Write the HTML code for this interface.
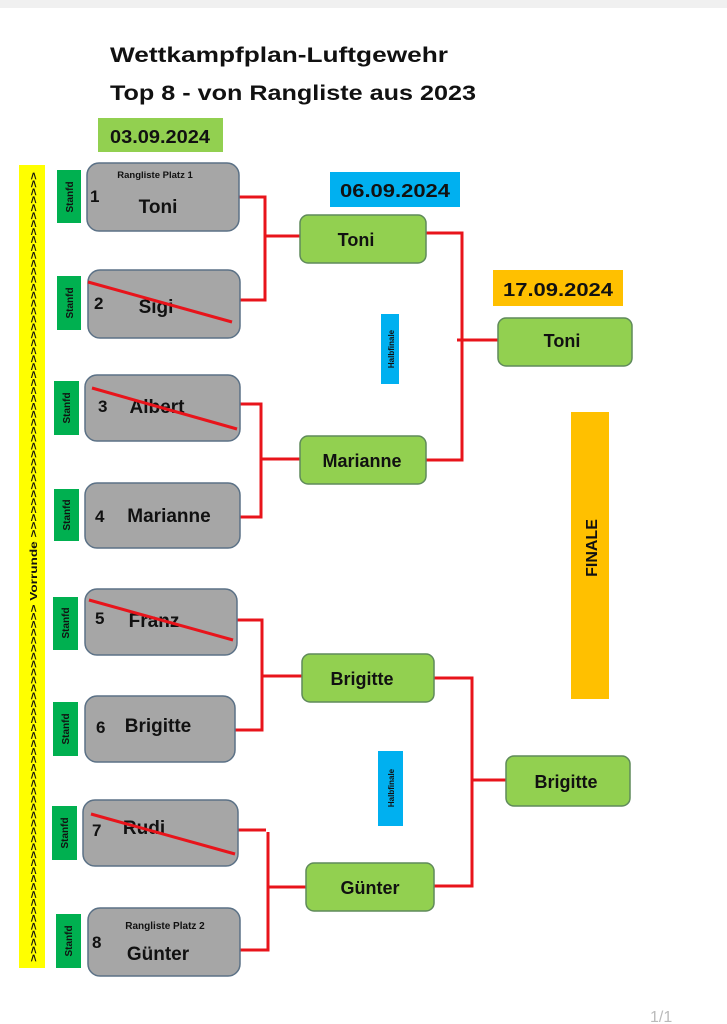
<!DOCTYPE html>
<html><head><meta charset="utf-8"><style>
html,body{margin:0;padding:0;background:#fff;}
svg{display:block;}
text{font-family:"Liberation Sans",sans-serif;font-weight:bold;fill:#111;}
</style></head><body>
<svg width="727" height="1024" viewBox="0 0 727 1024" xmlns="http://www.w3.org/2000/svg">
<rect x="0" y="0" width="727" height="8" fill="#f0f0f0"/>
<text x="110" y="62" font-size="21" textLength="338" lengthAdjust="spacingAndGlyphs">Wettkampfplan-Luftgewehr</text>
<text x="110" y="100" font-size="21" textLength="366" lengthAdjust="spacingAndGlyphs">Top 8 - von Rangliste aus 2023</text>
<rect x="98" y="118" width="125" height="34" fill="#92d050"/>
<text x="160" y="143" font-size="18" text-anchor="middle" textLength="100" lengthAdjust="spacingAndGlyphs">03.09.2024</text>
<rect x="330" y="172" width="130" height="35" fill="#00b0f0"/>
<text x="395" y="197" font-size="18" text-anchor="middle" textLength="110" lengthAdjust="spacingAndGlyphs">06.09.2024</text>
<rect x="493" y="270" width="130" height="36" fill="#ffc000"/>
<text x="558" y="296" font-size="18" text-anchor="middle" textLength="110" lengthAdjust="spacingAndGlyphs">17.09.2024</text>

<!-- yellow bar -->
<rect x="19" y="165" width="26" height="803" fill="#ffff00"/>
<text transform="translate(37,962) rotate(-90)" font-size="10" textLength="790" lengthAdjust="spacingAndGlyphs">&gt;&gt;&gt;&gt;&gt;&gt;&gt;&gt;&gt;&gt;&gt;&gt;&gt;&gt;&gt;&gt;&gt;&gt;&gt;&gt;&gt;&gt;&gt;&gt;&gt;&gt;&gt;&gt;&gt;&gt;&gt;&gt;&gt;&gt;&gt;&gt;&gt;&gt;&gt;&gt;&gt;&gt;&gt;&gt;&gt; Vorrunde &gt;&gt;&gt;&gt;&gt;&gt;&gt;&gt;&gt;&gt;&gt;&gt;&gt;&gt;&gt;&gt;&gt;&gt;&gt;&gt;&gt;&gt;&gt;&gt;&gt;&gt;&gt;&gt;&gt;&gt;&gt;&gt;&gt;&gt;&gt;&gt;&gt;&gt;&gt;&gt;&gt;&gt;&gt;&gt;&gt;&gt;</text>

<!-- red connectors -->
<g stroke="#e8141b" stroke-width="3" fill="none">
<polyline points="239,197 265,197 265,300 240,300"/><line x1="265" y1="236" x2="300" y2="236"/>
<polyline points="240,404 261,404 261,517 240,517"/><line x1="261" y1="459" x2="300" y2="459"/>
<polyline points="237,620 262,620 262,730 235,730"/><line x1="262" y1="676" x2="302" y2="676"/>
<polyline points="238,830 266,830"/><polyline points="268,832 268,950 240,950"/><line x1="268" y1="887" x2="306" y2="887"/>
<polyline points="426,233 462,233 462,460 426,460"/><line x1="457" y1="340" x2="498" y2="340"/>
<polyline points="434,678 472,678 472,886 434,886"/><line x1="472" y1="780" x2="506" y2="780"/>
</g>

<!-- Stanfd labels -->
<g fill="#00b050">
<rect x="57" y="170" width="24" height="53"/><rect x="57" y="276" width="24" height="54"/>
<rect x="54" y="381" width="25" height="54"/><rect x="54" y="489" width="25" height="52"/>
<rect x="53" y="597" width="25" height="53"/><rect x="53" y="702" width="25" height="54"/>
<rect x="52" y="806" width="25" height="54"/><rect x="56" y="914" width="25" height="54"/>
</g>
<g font-size="10">
<text transform="translate(73,197) rotate(-90)" text-anchor="middle">Stanfd</text>
<text transform="translate(73,303) rotate(-90)" text-anchor="middle">Stanfd</text>
<text transform="translate(70,408) rotate(-90)" text-anchor="middle">Stanfd</text>
<text transform="translate(70,515) rotate(-90)" text-anchor="middle">Stanfd</text>
<text transform="translate(69,623) rotate(-90)" text-anchor="middle">Stanfd</text>
<text transform="translate(69,729) rotate(-90)" text-anchor="middle">Stanfd</text>
<text transform="translate(68,833) rotate(-90)" text-anchor="middle">Stanfd</text>
<text transform="translate(72,941) rotate(-90)" text-anchor="middle">Stanfd</text>
</g>

<!-- gray boxes -->
<g fill="#a6a6a6" stroke="#5b7186" stroke-width="1.5">
<rect x="87" y="163" width="152" height="68" rx="12"/>
<rect x="88" y="270" width="152" height="68" rx="12"/>
<rect x="85" y="375" width="155" height="66" rx="12"/>
<rect x="85" y="483" width="155" height="65" rx="12"/>
<rect x="85" y="589" width="152" height="66" rx="12"/>
<rect x="85" y="696" width="150" height="66" rx="12"/>
<rect x="83" y="800" width="155" height="66" rx="12"/>
<rect x="88" y="908" width="152" height="68" rx="12"/>
</g>
<text x="155" y="178" font-size="9.5" text-anchor="middle">Rangliste Platz 1</text>
<text x="90" y="202" font-size="17">1</text><text x="158" y="213" font-size="19" text-anchor="middle">Toni</text>
<text x="94" y="309" font-size="17">2</text><text x="156" y="313" font-size="19" text-anchor="middle">Sigi</text>
<text x="98" y="412" font-size="17">3</text><text x="157" y="413" font-size="19" text-anchor="middle">Albert</text>
<text x="95" y="522" font-size="17">4</text><text x="169" y="522" font-size="19" text-anchor="middle">Marianne</text>
<text x="95" y="624" font-size="17">5</text><text x="154" y="627" font-size="19" text-anchor="middle">Franz</text>
<text x="96" y="733" font-size="17">6</text><text x="158" y="732" font-size="19" text-anchor="middle">Brigitte</text>
<text x="92" y="836" font-size="17">7</text><text x="144" y="834" font-size="19" text-anchor="middle">Rudi</text>
<text x="165" y="929" font-size="10" text-anchor="middle">Rangliste Platz 2</text>
<text x="92" y="948" font-size="17">8</text><text x="158" y="960" font-size="19" text-anchor="middle">Günter</text>

<!-- strike-throughs -->
<g stroke="#e8141b" stroke-width="3">
<line x1="88" y1="282" x2="232" y2="322"/>
<line x1="92" y1="388" x2="237" y2="429"/>
<line x1="89" y1="600" x2="233" y2="640"/>
<line x1="91" y1="814" x2="235" y2="854"/>
</g>

<!-- green nodes -->
<g fill="#92d050" stroke="#5f8a5a" stroke-width="1.5">
<rect x="300" y="215" width="126" height="48" rx="8"/>
<rect x="300" y="436" width="126" height="48" rx="8"/>
<rect x="302" y="654" width="132" height="48" rx="8"/>
<rect x="306" y="863" width="128" height="48" rx="8"/>
<rect x="498" y="318" width="134" height="48" rx="8"/>
<rect x="506" y="756" width="124" height="50" rx="8"/>
</g>
<g font-size="18" text-anchor="middle">
<text x="356" y="246">Toni</text>
<text x="362" y="467">Marianne</text>
<text x="362" y="685">Brigitte</text>
<text x="370" y="894">Günter</text>
<text x="562" y="347">Toni</text>
<text x="566" y="788">Brigitte</text>
</g>

<!-- Halbfinale / Finale -->
<rect x="381" y="314" width="18" height="70" fill="#00b0f0"/>
<text transform="translate(394,349) rotate(-90)" font-size="8" text-anchor="middle">Halbfinale</text>
<rect x="378" y="751" width="25" height="75" fill="#00b0f0"/>
<text transform="translate(394,788) rotate(-90)" font-size="8" text-anchor="middle">Halbfinale</text>
<rect x="571" y="412" width="38" height="287" fill="#ffc000"/>
<text transform="translate(597,548) rotate(-90)" font-size="16" text-anchor="middle">FINALE</text>

<text x="650" y="1022" font-size="16" fill="#bbb" style="font-weight:normal;fill:#bbb">1/1</text>
</svg>
</body></html>
